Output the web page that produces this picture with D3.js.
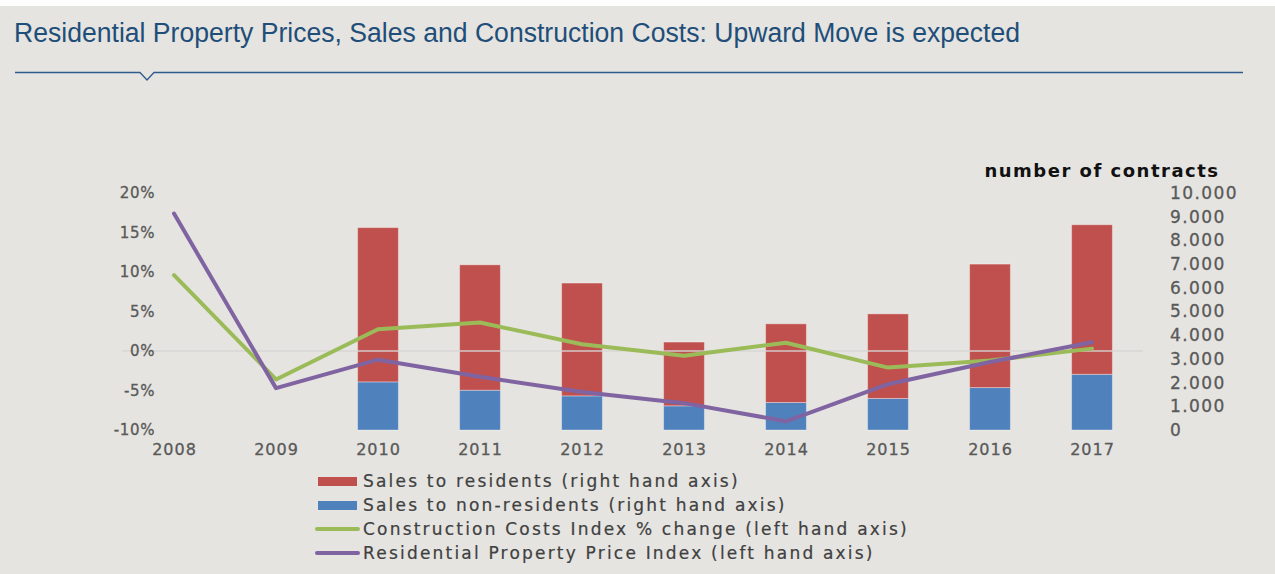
<!DOCTYPE html>
<html>
<head>
<meta charset="utf-8">
<script src="https://cdn.jsdelivr.net/npm/d3@7"></script>
<style>
  body { margin: 0; background: #fff; }
  svg { display: block; }
</style>
</head>
<body>
<div id="chart"></div>
<script>
var width = 1275, height = 574;

// data
var years = ["2008", "2009", "2010", "2011", "2012", "2013", "2014", "2015", "2016", "2017"];
var salesResidents = [null, null, 6510, 5290, 4760, 2690, 3320, 3570, 5210, 6310];
var salesNonResidents = [null, null, 2030, 1680, 1440, 1020, 1160, 1330, 1790, 2350];
var constructionCosts = [9.6, -3.6, 2.75, 3.6, 0.85, -0.6, 1.05, -2.1, -1.2, 0.3];
var propertyPrice = [17.4, -4.7, -1.1, -3.25, -5.2, -6.6, -8.9, -4.2, -1.4, 1.1];
var leftTicks = [-10, -5, 0, 5, 10, 15, 20];
var rightTicks = [0, 1000, 2000, 3000, 4000, 5000, 6000, 7000, 8000, 9000, 10000];

var colors = { res: "#c0504d", nonres: "#4f81bd", cost: "#9bbb59", price: "#8064a2" };

var svg = d3.select("#chart")
            .append("svg")
            .attr("width", width)
            .attr("height", height);

// background
svg.append("rect").attr("width", width).attr("height", height).attr("fill", "#fff");
svg.append("rect").attr("y", 6).attr("width", width).attr("height", height - 6).attr("fill", "#e5e4e0");

// title + rule with notch
svg.append("text")
   .attr("x", 14).attr("y", 42)
   .attr("font-family", "Liberation Sans, Arial, sans-serif")
   .attr("font-size", 27)
   .attr("textLength", 1006)
   .attr("lengthAdjust", "spacingAndGlyphs")
   .attr("fill", "#1f4e79")
   .text("Residential Property Prices, Sales and Construction Costs: Upward Move is expected");

svg.append("path")
   .attr("d", "M15,72.5 H140 L147,80 L154,72.5 H1243")
   .attr("fill", "none")
   .attr("stroke", "#2f5b8c")
   .attr("stroke-width", 1.3);

// scales
var x = d3.scalePoint().domain(years).range([174, 1092]);
var barW = x.step() * 0.4;
var yLeft = d3.scaleLinear().domain([-10, 20]).range([430, 193]);
var yRight = d3.scaleLinear().domain([0, 10000]).range([430, 193]);

var dotLocale = d3.formatLocale({ decimal: ",", thousands: ".", grouping: [3], currency: ["", ""] });
var fmtRight = dotLocale.format(",");

var tickFont = "DejaVu Sans, sans-serif";

// bars
var barData = years.map(function(y, i) {
    return { year: y, res: salesResidents[i], non: salesNonResidents[i] };
}).filter(function(d) { return d.res != null; });

var bars = svg.append("g");
bars.selectAll(".non")
    .data(barData).enter()
    .append("rect")
    .attr("x", function(d) { return x(d.year) - barW / 2; })
    .attr("width", barW)
    .attr("y", function(d) { return yRight(d.non); })
    .attr("height", function(d) { return yRight(0) - yRight(d.non); })
    .attr("fill", colors.nonres)
    .attr("stroke", "rgba(255,255,255,0.35)");
bars.selectAll(".res")
    .data(barData).enter()
    .append("rect")
    .attr("x", function(d) { return x(d.year) - barW / 2; })
    .attr("width", barW)
    .attr("y", function(d) { return yRight(d.non + d.res); })
    .attr("height", function(d) { return yRight(d.non) - yRight(d.non + d.res); })
    .attr("fill", colors.res)
    .attr("stroke", "rgba(255,255,255,0.35)");

// zero line
svg.append("line")
   .attr("x1", 122).attr("x2", 1143)
   .attr("y1", yLeft(0)).attr("y2", yLeft(0))
   .attr("stroke", "rgba(215,214,212,0.9)")
   .attr("stroke-width", 1.5);

// lines
var line = d3.line()
             .x(function(d, i) { return x(years[i]); })
             .y(function(d) { return yLeft(d); });

svg.append("path")
   .datum(constructionCosts)
   .attr("d", line)
   .attr("fill", "none")
   .attr("stroke", colors.cost)
   .attr("stroke-width", 4)
   .attr("stroke-linecap", "round")
   .attr("stroke-linejoin", "round");

svg.append("path")
   .datum(propertyPrice)
   .attr("d", line)
   .attr("fill", "none")
   .attr("stroke", colors.price)
   .attr("stroke-width", 4)
   .attr("stroke-linecap", "round")
   .attr("stroke-linejoin", "round");

// axes
function styleAxis(size, spacing) {
    return function(g) {
        g.select(".domain").remove();
        g.selectAll("text")
         .attr("font-family", tickFont)
         .attr("font-size", size)
         .attr("letter-spacing", spacing)
         .attr("fill", "#595959")
         .attr("stroke", "#595959")
         .attr("stroke-width", 0.3);
    };
}

svg.append("g")
   .attr("transform", "translate(158,0)")
   .call(d3.axisLeft(yLeft).tickValues(leftTicks).tickSize(0).tickPadding(3)
           .tickFormat(function(d) { return (d < 0 ? "-" : "") + Math.abs(d) + "%"; }))
   .call(styleAxis(15, 0.6));

svg.append("g")
   .attr("transform", "translate(1166,0)")
   .call(d3.axisRight(yRight).tickValues(rightTicks).tickSize(0).tickPadding(4)
           .tickFormat(fmtRight))
   .call(styleAxis(17, 1.4));

svg.append("g")
   .attr("transform", "translate(0,430)")
   .call(d3.axisBottom(x).tickSize(0).tickPadding(14))
   .call(styleAxis(16, 1));

svg.append("text")
   .attr("x", 1102).attr("y", 177)
   .attr("text-anchor", "middle")
   .attr("font-family", tickFont)
   .attr("font-weight", "bold")
   .attr("font-size", 18)
   .attr("letter-spacing", 1.5)
   .attr("fill", "#111")
   .text("number of contracts");

// legend
var legendItems = [
    { label: "Sales to residents (right hand axis)", color: colors.res, type: "rect" },
    { label: "Sales to non-residents (right hand axis)", color: colors.nonres, type: "rect" },
    { label: "Construction Costs Index % change (left hand axis)", color: colors.cost, type: "line" },
    { label: "Residential Property Price Index (left hand axis)", color: colors.price, type: "line" }
];

var legend = svg.append("g").attr("transform", "translate(0,481)");
var li = legend.selectAll("g")
    .data(legendItems).enter()
    .append("g")
    .attr("transform", function(d, i) { return "translate(0," + (i * 24) + ")"; });

li.filter(function(d) { return d.type == "rect"; })
  .append("rect")
  .attr("x", 318).attr("y", -4).attr("width", 39).attr("height", 9)
  .attr("fill", function(d) { return d.color; });

li.filter(function(d) { return d.type == "line"; })
  .append("line")
  .attr("x1", 317).attr("x2", 358)
  .attr("stroke", function(d) { return d.color; })
  .attr("stroke-width", 4)
  .attr("stroke-linecap", "round");

li.append("text")
  .attr("x", 363).attr("y", 6)
  .attr("font-family", tickFont)
  .attr("font-size", 17)
  .attr("letter-spacing", 2.2)
  .attr("fill", "#404040")
  .attr("stroke", "#404040")
  .attr("stroke-width", 0.2)
  .text(function(d) { return d.label; });
</script>
</body>
</html>
